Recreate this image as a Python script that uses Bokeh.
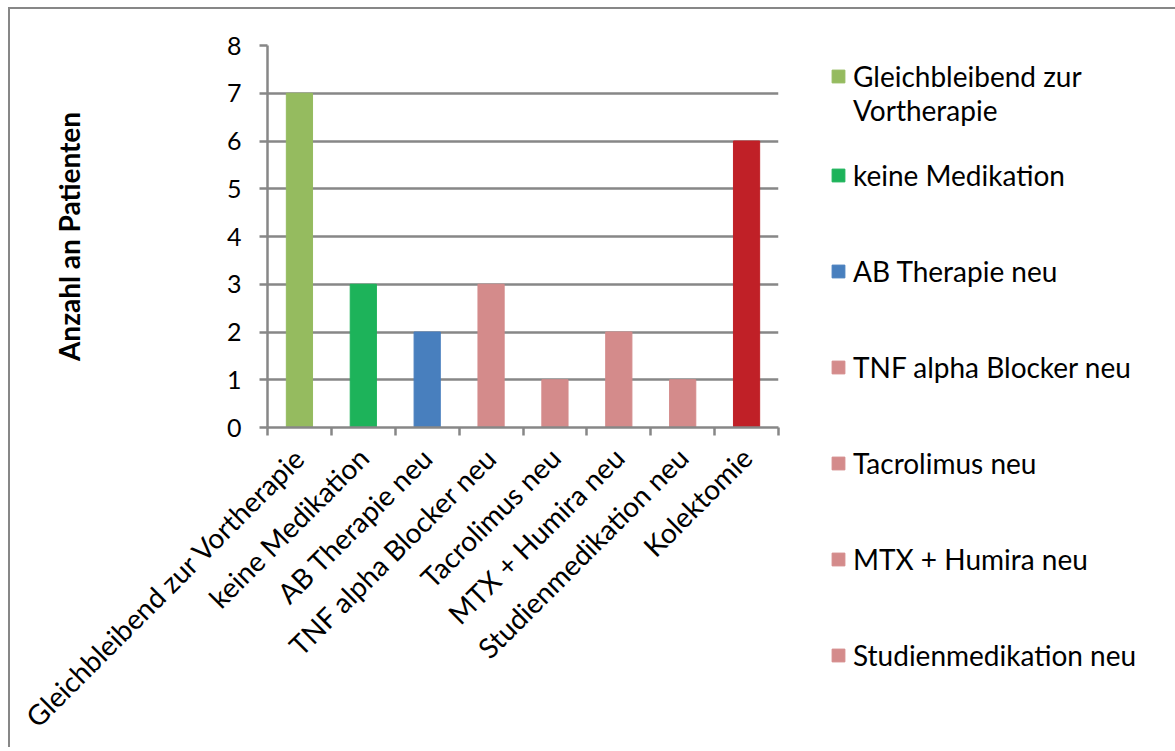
from math import pi
from bokeh.plotting import figure
from bokeh.layouts import column
from bokeh.models import (ColumnDataSource, Range1d, LinearAxis,
                          FixedTicker, Legend, LegendItem)
from bokeh.embed import file_html
from bokeh.resources import INLINE

categories = ["Gleichbleibend zur Vortherapie", "keine Medikation", "AB Therapie neu",
              "TNF alpha Blocker neu", "Tacrolimus neu", "MTX + Humira neu",
              "Studienmedikation neu", "Kolektomie"]
counts = [7, 3, 2, 3, 1, 2, 1, 6]
colors = ["#95BB5F", "#1DB35A", "#487FBE", "#D48B8B", "#D48B8B", "#D48B8B",
          "#D48B8B", "#C02027"]
# leading blank line keeps the square level with the first text line
legend_labels = ["\nGleichbleibend zur\nVortherapie", "keine Medikation", "AB Therapie neu",
                 "TNF alpha Blocker neu", "Tacrolimus neu", "MTX + Humira neu",
                 "Studienmedikation neu"]
y_ticks = [0, 1, 2, 3, 4, 5, 6, 7, 8]
y_title = "Anzahl an Patienten"

FONT = "Lato"
GRAY = "#878787"

n_cat = len(categories)
centers = [i + 0.5 for i in range(n_cat)]
edges = list(range(n_cat + 1))

src = ColumnDataSource(dict(x=centers, n=counts, color=colors))

p = figure(frame_width=509, frame_height=380, x_range=Range1d(0, n_cat),
           y_range=Range1d(0, 8), x_axis_location=None, y_axis_location=None,
           output_backend="svg", toolbar_location=None,
           min_border_left=257, min_border_top=36, min_border_right=0,
           min_border_bottom=322)
p.styles = {"border-left": f"2px solid {GRAY}", "border-top": f"2px solid {GRAY}"}
p.outline_line_color = None
p.xgrid.grid_line_color = None

r = p.vbar(x="x", top="n", width=0.41, color="color", source=src)

# y axis
yax = LinearAxis(ticker=FixedTicker(ticks=y_ticks, minor_ticks=[]), axis_label=y_title)
yax.axis_line_color = GRAY
yax.axis_line_width = 2.5
yax.major_tick_line_color = GRAY
yax.major_tick_line_width = 2.5
yax.major_tick_in = 0
yax.major_tick_out = 8
yax.major_label_text_font = FONT
yax.major_label_text_font_size = "25px"
yax.major_label_text_color = "#000000"
yax.major_label_standoff = 18
yax.axis_label_text_font = FONT
yax.axis_label_text_font_style = "bold"
yax.axis_label_text_font_size = "28px"
yax.axis_label_text_color = "#000000"
yax.axis_label_standoff = 138
p.add_layout(yax, "left")

p.ygrid.ticker = FixedTicker(ticks=y_ticks)
p.ygrid.grid_line_color = GRAY
p.ygrid.grid_line_width = 2.5

# x axis: labels at category centers, ticks at category edges
xax = LinearAxis(ticker=FixedTicker(ticks=centers, minor_ticks=edges))
xax.major_label_overrides = {c: lab for c, lab in zip(centers, categories)}
xax.axis_line_color = GRAY
xax.axis_line_width = 2.5
xax.minor_tick_line_color = GRAY
xax.minor_tick_line_width = 2.5
xax.minor_tick_in = 0
xax.minor_tick_out = 8
xax.major_tick_line_color = None
xax.major_tick_in = 0
xax.major_tick_out = 0
xax.major_label_orientation = pi / 4
xax.major_label_text_font = FONT
xax.major_label_text_font_size = "28px"
xax.major_label_text_color = "#000000"
xax.major_label_standoff = 17
p.add_layout(xax, "below")

items = [LegendItem(label=legend_labels[i], renderers=[r], index=i)
         for i in range(len(legend_labels))]
legend = Legend(items=items, location=(52, -276))
legend.padding = 0
legend.margin = 0
legend.border_line_color = None
legend.background_fill_alpha = 0
legend.glyph_width = 16
legend.glyph_height = 16
legend.label_standoff = 7
legend.label_text_font = FONT
legend.label_text_font_size = "28px"
legend.label_text_color = "#000000"
legend.label_height = 96
legend.spacing = 0
p.add_layout(legend, "right")

root = column(p, styles={"padding-left": "8px", "padding-top": "7px"})

open("out.html", "w").write(file_html(root, INLINE))
